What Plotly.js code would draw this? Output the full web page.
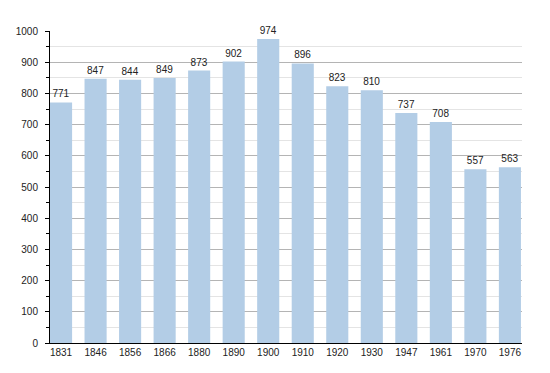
<!DOCTYPE html>
<html><head><meta charset="utf-8">
<script src="https://cdn.plot.ly/plotly-3.0.1.min.js"></script>
<style>html,body{margin:0;padding:0;background:#fff}</style>
</head><body><div id="chart" style="width:550px;height:373px"></div>
<script>
const years = ["1831","1846","1856","1866","1880","1890","1900","1910","1920","1930","1947","1961","1970","1976"];
const population = [771,847,844,849,873,902,974,896,823,810,737,708,557,563];
const idx = years.map((_, i) => i);
Plotly.newPlot('chart', [{
  type: 'bar', x: idx, y: population,
  text: population.map(String), textposition: 'outside', cliponaxis: false,
  textfont: {family: 'Liberation Sans, Arial, sans-serif', size: 10, color: '#222'},
  marker: {color: '#b3cde6'}, width: 0.64, hoverinfo: 'none'
}], {
  width: 550, height: 373,
  margin: {l: 50, r: 28, t: 31, b: 30},
  paper_bgcolor: '#fff', plot_bgcolor: '#fff',
  showlegend: false,
  font: {family: 'Liberation Sans, Arial, sans-serif', size: 10, color: '#222'},
  xaxis: {
    range: [-0.32, 13.35], tickmode: 'array', tickvals: idx, ticktext: years,
    showgrid: false, zeroline: false, showline: true, linecolor: '#000', linewidth: 1,
    ticks: '', tickfont: {size: 10}
  },
  yaxis: {
    range: [0, 1000], dtick: 100, tick0: 0, showgrid: true, gridcolor: '#b4b4b4', gridwidth: 1,
    zeroline: false, showline: true, linecolor: '#000', linewidth: 1,
    ticks: 'outside', ticklen: 4, tickcolor: '#000', tickfont: {size: 10}, ticklabelstandoff: 5,
    minor: {dtick: 50, tick0: 0, showgrid: true, gridcolor: '#e4e4e4', ticks: 'outside', ticklen: 3, tickcolor: '#000'}
  }
}, {staticPlot: true});
</script></body></html>
